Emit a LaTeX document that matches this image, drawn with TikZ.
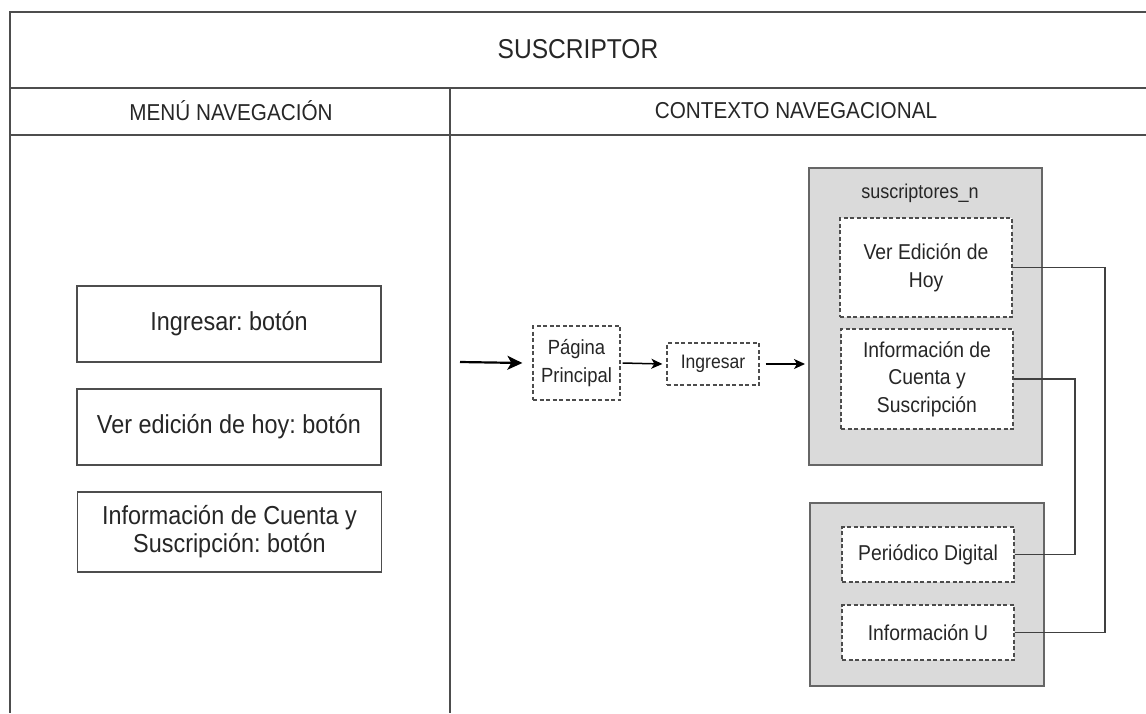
\documentclass[tikz,border=0pt]{standalone}
\usepackage{fontspec}
\setmainfont{Liberation Sans}[FakeStretch=0.9]
\usetikzlibrary{arrows.meta}
\frenchspacing
\definecolor{frameline}{HTML}{4D4D4D}
\definecolor{groupfill}{HTML}{DADADA}
\definecolor{groupline}{HTML}{666666}
\tikzstyle{every node}=[font=\fontsize{26}{28}\selectfont, text=black!85]
\tikzstyle{menubox}=[draw=frameline, line width=1.4pt, fill=white, align=center, inner sep=2pt, minimum width=304pt, minimum height=76pt]
\tikzstyle{ctxbox}=[draw=black!70, dashed, dash pattern=on 4pt off 2.5pt, line width=1.3pt, fill=white, align=center, inner sep=1pt]
\tikzstyle{groupbox}=[draw=groupline, line width=1.8pt, fill=groupfill]
\begin{document}
\begin{tikzpicture}[x=1pt, y=-1pt]
        \useasboundingbox (0, 0) rectangle (1146, 713);

        % marco
        \draw [frameline, line width=1.6pt] (1146, 12) -- (10, 12) -- (10, 713);
        \draw [frameline, line width=1.6pt] (10, 88) -- (1146, 88);
        \draw [frameline, line width=1.6pt] (10, 135) -- (1146, 135);
        \draw [frameline, line width=1.6pt] (450, 88) -- (450, 713);

        \node (title) at (578, 49) {\fontsize{27.3}{30}\selectfont SUSCRIPTOR};
        \node (menu) at (231, 111) {\fontsize{23}{26}\selectfont MENÚ NAVEGACIÓN};
        \node (ctx) at (796, 111) {\fontsize{23}{26}\selectfont CONTEXTO NAVEGACIONAL};

        % menu
        \node [menubox] (ingresarbtn) at (229, 324) {Ingresar: botón};
        \node [menubox] (edicionbtn) at (229, 427) {Ver edición de hoy: botón};
        \node [menubox, minimum height=80pt] (cuentabtn) at (229.5, 532) {Información de Cuenta y\\Suscripción: botón};

        % contexto
        \draw [groupbox] (809, 168) rectangle (1042, 465);
        \draw [groupbox] (810, 503) rectangle (1044, 686);
        \node (grupo) at (920, 193) {\fontsize{20}{24}\selectfont suscriptores\_n};

        \node [ctxbox, minimum width=87pt, minimum height=74pt, font=\fontsize{20.5}{28}\selectfont] (principal) at (576.5, 363) {Página\\Principal};
        \node [ctxbox, minimum width=92pt, minimum height=42pt, font=\fontsize{19.5}{22}\selectfont] (ingresar) at (713, 364) {Ingresar};
        \node [ctxbox, minimum width=172pt, minimum height=99pt, font=\fontsize{21.5}{28}\selectfont] (veredicion) at (926, 267.5) {Ver Edición de\\Hoy};
        \node [ctxbox, minimum width=172pt, minimum height=100pt, font=\fontsize{21.5}{27.5}\selectfont] (infocuenta) at (927, 379) {Información de\\Cuenta y\\Suscripción};
        \node [ctxbox, minimum width=172pt, minimum height=55pt, font=\fontsize{21.5}{24}\selectfont] (periodico) at (928, 554.5) {Periódico Digital};
        \node [ctxbox, minimum width=172pt, minimum height=55pt, font=\fontsize{21.5}{24}\selectfont] (infou) at (928, 632.5) {Información U};

        \coordinate (entrada) at (460, 362);
        \coordinate (grupoin) at (805, 364);

        \draw [-{Stealth[length=15pt, width=14pt, inset=4pt]}, line width=2.2pt] (entrada) -- ([xshift=-10pt]principal.west);
        \draw [-{Stealth[length=11pt, width=10pt, inset=3pt]}, line width=1.5pt] ([xshift=2pt]principal.east) -- ([xshift=-4pt]ingresar.west);
        \draw [-{Stealth[length=11pt, width=10pt, inset=3pt]}, line width=1.5pt] ([xshift=6pt]ingresar.east) -- (grupoin);

        \draw [black!75, line width=1.4pt] (veredicion.east) -- (1105, 267.5) |- (infou.east);
        \draw [black!75, line width=1.4pt] (infocuenta.east) -- (1075, 379) |- (periodico.east);
    \end{tikzpicture}
\end{document}
